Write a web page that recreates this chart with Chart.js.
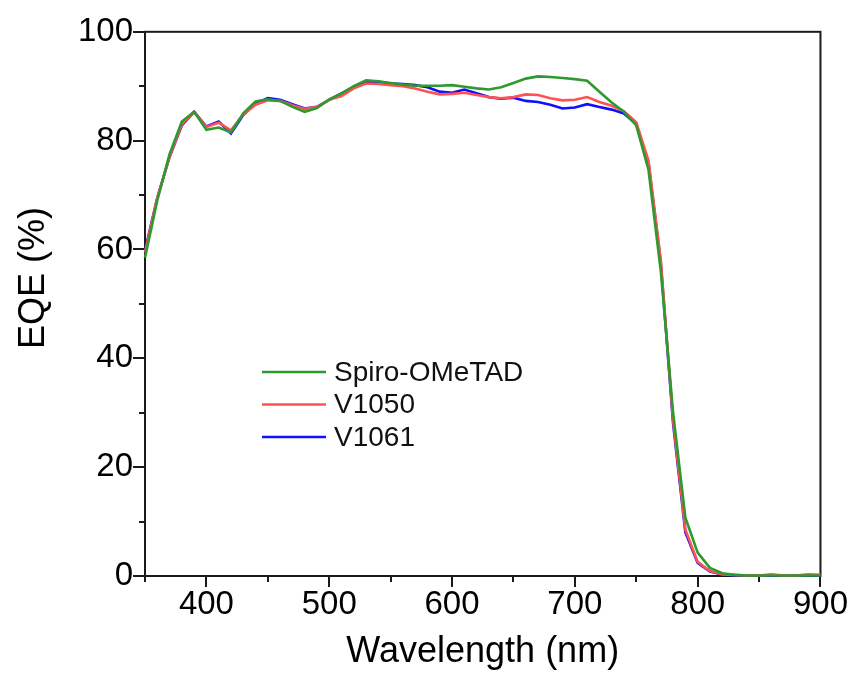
<!DOCTYPE html>
<html>
<head>
<meta charset="utf-8">
<script src="https://cdn.jsdelivr.net/npm/chart.js@4/dist/chart.umd.min.js"></script>
<style>
  html, body { margin: 0; padding: 0; background: #fff; }
  #wrap { width: 857px; height: 676px; }
</style>
</head>
<body>
<div id="wrap"><canvas id="eqe"></canvas></div>
<script>
// wavelength grid (nm)
const wavelengths = [350,360,370,380,390,400,410,420,430,440,450,460,470,480,490,500,510,520,530,540,550,560,570,580,590,600,610,620,630,640,650,660,670,680,690,700,710,720,730,740,750,760,770,780,790,800,810,820,830,840,850,860,870,880,890,900];

// EQE (%)
const spiro = [58.5,69.0,77.5,83.5,85.3,82.0,82.4,81.5,85.0,87.2,87.6,87.3,86.2,85.3,86.0,87.6,88.7,90.0,91.1,90.9,90.6,90.3,90.1,90.1,90.1,90.2,89.9,89.6,89.4,89.8,90.6,91.4,91.8,91.7,91.5,91.3,91.0,89.0,87.0,85.3,82.8,74.6,56.0,30.0,10.7,4.3,1.5,0.5,0.2,0.1,0.1,0.1,0.1,0.1,0.1,0.1];
const v1050 = [59.5,69.5,77.0,83.0,85.3,82.5,83.3,81.9,84.8,86.6,87.4,87.3,86.5,85.8,86.2,87.5,88.2,89.6,90.5,90.4,90.2,90.0,89.6,89.0,88.5,88.6,88.8,88.4,88.0,87.8,88.0,88.5,88.4,87.8,87.4,87.5,88.0,87.1,86.4,85.4,83.4,76.3,58.0,28.5,8.5,2.6,0.9,0.3,0.2,0.1,0.1,0.3,0.1,0.1,0.3,0.2];
const v1061 = [59.8,69.5,77.0,82.8,85.3,82.6,83.5,81.3,84.7,86.8,87.8,87.5,86.7,85.9,86.2,87.5,88.7,89.8,90.7,90.8,90.5,90.4,90.2,89.8,89.0,88.8,89.4,88.7,88.0,87.7,87.9,87.3,87.1,86.6,85.9,86.1,86.7,86.2,85.7,85.0,83.0,75.9,57.5,28.0,8.0,2.4,0.8,0.3,0.1,0.1,0.1,0.1,0.1,0.1,0.1,0.1];

const seriesNames = ['Spiro-OMeTAD', 'V1050', 'V1061'];
const seriesColors = ['#2e9a2e', '#ff5252', '#1010ff'];
const xTickLabels = [400, 500, 600, 700, 800, 900];
const yTickLabels = [0, 20, 40, 60, 80, 100];

const FONT = "'Liberation Sans', Arial, sans-serif";

const pts = vals => vals.map((v, i) => ({ x: wavelengths[i], y: v }));

// frame, major/minor tick marks, y title and in-plot legend
const decor = {
  id: 'decor',
  beforeDatasetsDraw(chart) {
    const { ctx, chartArea: a, scales: { x, y } } = chart;
    ctx.save();
    ctx.strokeStyle = '#1a1a1a';
    ctx.lineWidth = 2;
    ctx.strokeRect(a.left, a.top, a.right - a.left, a.bottom - a.top);
    ctx.beginPath();
    x.ticks.forEach(t => {
      const px = Math.round(x.getPixelForValue(t.value));
      const len = xTickLabels.includes(t.value) ? 11 : 6;
      ctx.moveTo(px, a.bottom);
      ctx.lineTo(px, a.bottom + len);
    });
    y.ticks.forEach(t => {
      const py = Math.round(y.getPixelForValue(t.value));
      const len = yTickLabels.includes(t.value) ? 12 : 6;
      ctx.moveTo(a.left, py);
      ctx.lineTo(a.left - len, py);
    });
    ctx.stroke();
    ctx.restore();
  },
  afterDraw(chart) {
    const { ctx } = chart;
    ctx.save();
    // y axis title
    ctx.translate(34, 278);
    ctx.rotate(-Math.PI / 2);
    ctx.fillStyle = '#000';
    ctx.font = '36px ' + FONT;
    ctx.textAlign = 'center';
    ctx.textBaseline = 'middle';
    ctx.fillText('EQE (%)', 0, 0);
    ctx.restore();

    // legend
    ctx.save();
    ctx.font = '28px ' + FONT;
    ctx.textBaseline = 'middle';
    chart.data.datasets.forEach((ds, i) => {
      const yy = 372 + i * 32.5;
      ctx.strokeStyle = ds.borderColor;
      ctx.lineWidth = 2.5;
      ctx.beginPath();
      ctx.moveTo(262, yy);
      ctx.lineTo(326, yy);
      ctx.stroke();
      ctx.fillStyle = '#111';
      ctx.fillText(ds.label, 334, yy + 1);
    });
    ctx.restore();
  }
};

new Chart(document.getElementById('eqe'), {
  type: 'line',
  data: {
    datasets: [spiro, v1050, v1061].map((vals, i) => ({
      label: seriesNames[i],
      data: pts(vals),
      borderColor: seriesColors[i],
      borderWidth: 2.6,
      pointRadius: 0,
      tension: 0,
      fill: false,
      clip: 4
    }))
  },
  options: {
    responsive: true,
    maintainAspectRatio: false,
    animation: false,
    layout: { padding: { top: 28, right: 33, left: 0, bottom: 0 } },
    plugins: { legend: { display: false }, tooltip: { enabled: false } },
    scales: {
      x: {
        type: 'linear',
        min: 350,
        max: 900,
        afterFit: s => { s.height = 100; },
        ticks: {
          stepSize: 50,
          padding: 9,
          color: '#000',
          font: { family: FONT, size: 33 },
          maxRotation: 0,
          autoSkip: false,
          callback: v => xTickLabels.includes(v) ? String(v) : ''
        },
        grid: { display: false, drawTicks: false },
        border: { display: false },
        title: {
          display: true,
          text: 'Wavelength (nm)',
          color: '#000',
          font: { family: FONT, size: 36 },
          padding: { top: 0, bottom: 2 }
        }
      },
      y: {
        min: 0,
        max: 100,
        afterFit: s => { s.width = 145; },
        ticks: {
          stepSize: 10,
          padding: 12,
          color: '#000',
          font: { family: FONT, size: 33 },
          autoSkip: false,
          callback: v => yTickLabels.includes(v) ? String(v) : ''
        },
        grid: { display: false, drawTicks: false },
        border: { display: false }
      }
    }
  },
  plugins: [decor]
});
</script>
</body>
</html>
